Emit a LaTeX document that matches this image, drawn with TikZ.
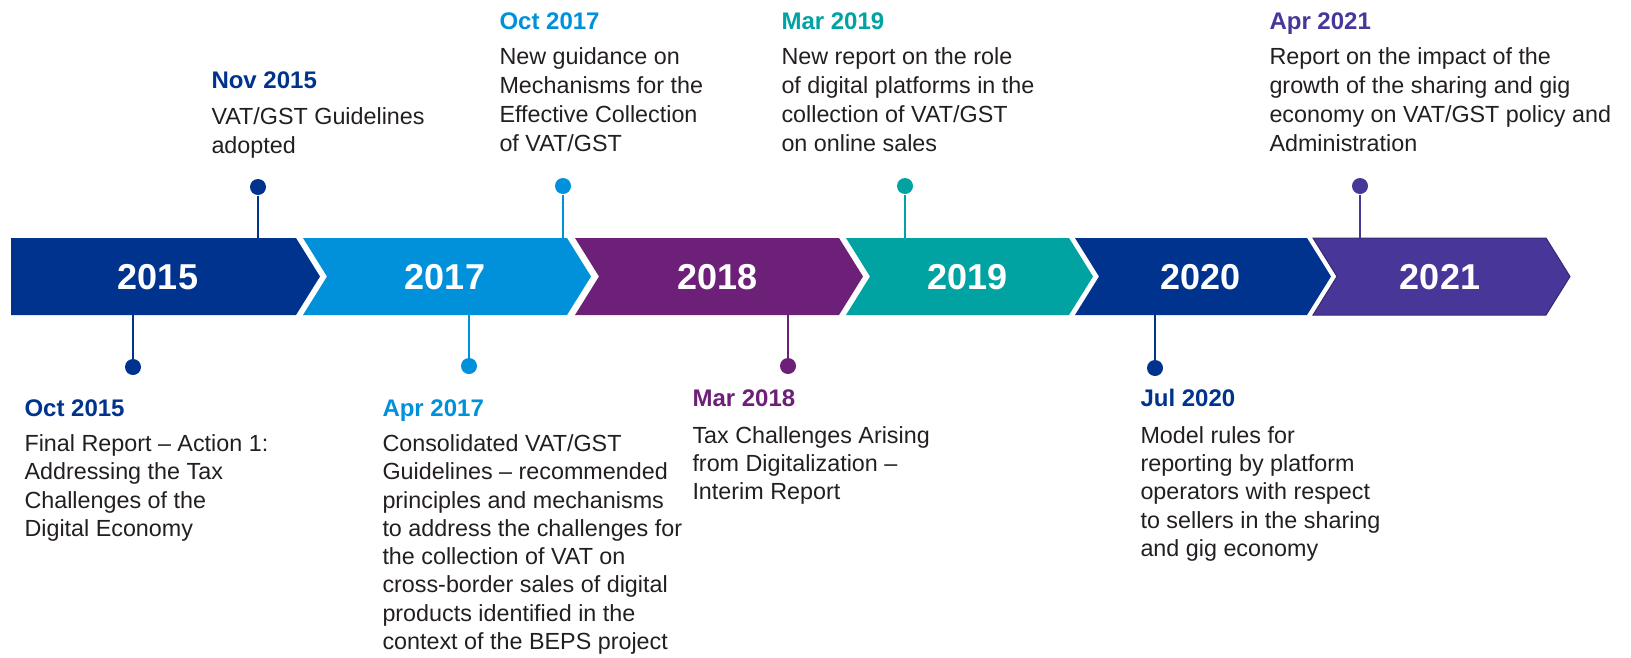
\documentclass[tikz,border=0pt]{standalone}
\usepackage{fontspec}
\setmainfont{Liberation Sans}

\definecolor{kblue}{HTML}{00338D}
\definecolor{kmid}{HTML}{0091DA}
\definecolor{kpurple}{HTML}{6D2077}
\definecolor{kteal}{HTML}{00A3A1}
\definecolor{kviolet}{HTML}{483698}
\definecolor{bodygray}{HTML}{231F20}

\tikzset{every picture/.style={line width=0.75pt}}
\tikzset{
  yeartext/.style={text=white, inner sep=0pt, font=\fontsize{27}{30}\selectfont\bfseries},
  datetext/.style={text=#1, anchor=base west, inner sep=0pt, font=\fontsize{18}{21.6}\selectfont\bfseries},
  bodytext/.style={text=bodygray, anchor=north west, inner sep=0pt, align=left,
    font=\fontsize{17.5}{21.7}\selectfont, execute at begin node=\strut},
  lowtext/.style={bodytext, font=\fontsize{17.5}{21.2}\selectfont},
  evdot/.style={circle, fill=#1, inner sep=0pt, minimum size=12pt},
  stem/.style={draw=#1, line width=1.1pt}
}

\begin{document}
\begin{tikzpicture}[x=0.75pt,y=0.75pt,yscale=-1,xscale=1]
\useasboundingbox (0,0) rectangle (1631,657);

%Shape: Chevrons
\fill[kblue] (11,238) -- (296,238) -- (320,276.5) -- (296,315) -- (11,315) -- cycle ;
\fill[kmid] (303,238) -- (567,238) -- (591,276.5) -- (567,315) -- (303,315) -- (327,276.5) -- cycle ;
\fill[kpurple] (575,238) -- (839,238) -- (863,276.5) -- (839,315) -- (575,315) -- (599,276.5) -- cycle ;
\fill[kteal] (846,238) -- (1069,238) -- (1093,276.5) -- (1069,315) -- (846,315) -- (870,276.5) -- cycle ;
\fill[kblue] (1075,238) -- (1307,238) -- (1331,276.5) -- (1307,315) -- (1075,315) -- (1099,276.5) -- cycle ;
\draw[kviolet!75!black, fill=kviolet] (1313,238) -- (1546,238) -- (1570,276.5) -- (1546,315) -- (1313,315) -- (1337,276.5) -- cycle ;

% Years
\node[yeartext] (y15) at (158,277) {2015};
\node[yeartext] (y17) at (445,277) {2017};
\node[yeartext] (y18) at (717.5,277) {2018};
\node[yeartext] (y19) at (967.5,277) {2019};
\node[yeartext] (y20) at (1200.5,277) {2020};
\node[yeartext] (y21) at (1440,277) {2021};

% Stem ends on the bar edges
\coordinate (nov15e) at (258,238);
\coordinate (oct15e) at (133,315);
\coordinate (oct17e) at (563,238);
\coordinate (apr17e) at (469,315);
\coordinate (mar19e) at (905,238);
\coordinate (mar18e) at (788,315);
\coordinate (jul20e) at (1155,315);
\coordinate (apr21e) at (1360,238);

% Dots
\node[evdot=kblue] (nov15d) at (258,187) {};
\node[evdot=kblue] (oct15d) at (133,367) {};
\node[evdot=kmid] (oct17d) at (563,186) {};
\node[evdot=kmid] (apr17d) at (469,366) {};
\node[evdot=kteal] (mar19d) at (905,186) {};
\node[evdot=kpurple] (mar18d) at (788,366) {};
\node[evdot=kblue] (jul20d) at (1155,368) {};
\node[evdot=kviolet] (apr21d) at (1360,186) {};

% Stems
\draw[stem=kblue] (nov15d) -- (nov15e) ;
\draw[stem=kblue] (oct15d) -- (oct15e) ;
\draw[stem=kmid] (oct17d) -- (oct17e) ;
\draw[stem=kmid] (apr17d) -- (apr17e) ;
\draw[stem=kteal] (mar19d) -- (mar19e) ;
\draw[stem=kpurple] (mar18d) -- (mar18e) ;
\draw[stem=kblue] (jul20d) -- (jul20e) ;
\draw[stem=kviolet] (apr21d) -- (apr21e) ;

% Text Node -- above the bar
\node[datetext=kblue] (nov15) at (211,88) {Nov 2015};
\node[bodytext] (nov15t) at (211,107.3) {VAT/GST Guidelines\\adopted};
\node[datetext=kmid] (oct17) at (499,29) {Oct 2017};
\node[bodytext] (oct17t) at (499,46.8) {New guidance on\\Mechanisms for the\\Effective Collection\\of VAT/GST};
\node[datetext=kteal] (mar19) at (781,29) {Mar 2019};
\node[bodytext] (mar19t) at (781,46.8) {New report on the role\\of digital platforms in the\\collection of VAT/GST\\on online sales};
\node[datetext=kviolet] (apr21) at (1269,29) {Apr 2021};
\node[bodytext] (apr21t) at (1269,46.8) {Report on the impact of the\\growth of the sharing and gig\\economy on VAT/GST policy and\\Administration};

% Text Node -- below the bar
\node[datetext=kblue] (oct15) at (24,416) {Oct 2015};
\node[lowtext] (oct15t) at (24,434.2) {Final Report – Action 1:\\Addressing the Tax\\Challenges of the\\Digital Economy};
\node[datetext=kmid] (apr17) at (382,416) {Apr 2017};
\node[lowtext] (apr17t) at (382,434.2) {Consolidated VAT/GST\\Guidelines – recommended\\principles and mechanisms\\to address the challenges for\\the collection of VAT on\\cross-border sales of digital\\products identified in the\\context of the BEPS project};
\node[datetext=kpurple] (mar18) at (692,406) {Mar 2018};
\node[lowtext] (mar18t) at (692,425.9) {Tax Challenges Arising\\from Digitalization –\\Interim Report};
\node[datetext=kblue] (jul20) at (1140,406) {Jul 2020};
\node[lowtext] (jul20t) at (1140,425.9) {Model rules for\\reporting by platform\\operators with respect\\to sellers in the sharing\\and gig economy};

\end{tikzpicture}
\end{document}
